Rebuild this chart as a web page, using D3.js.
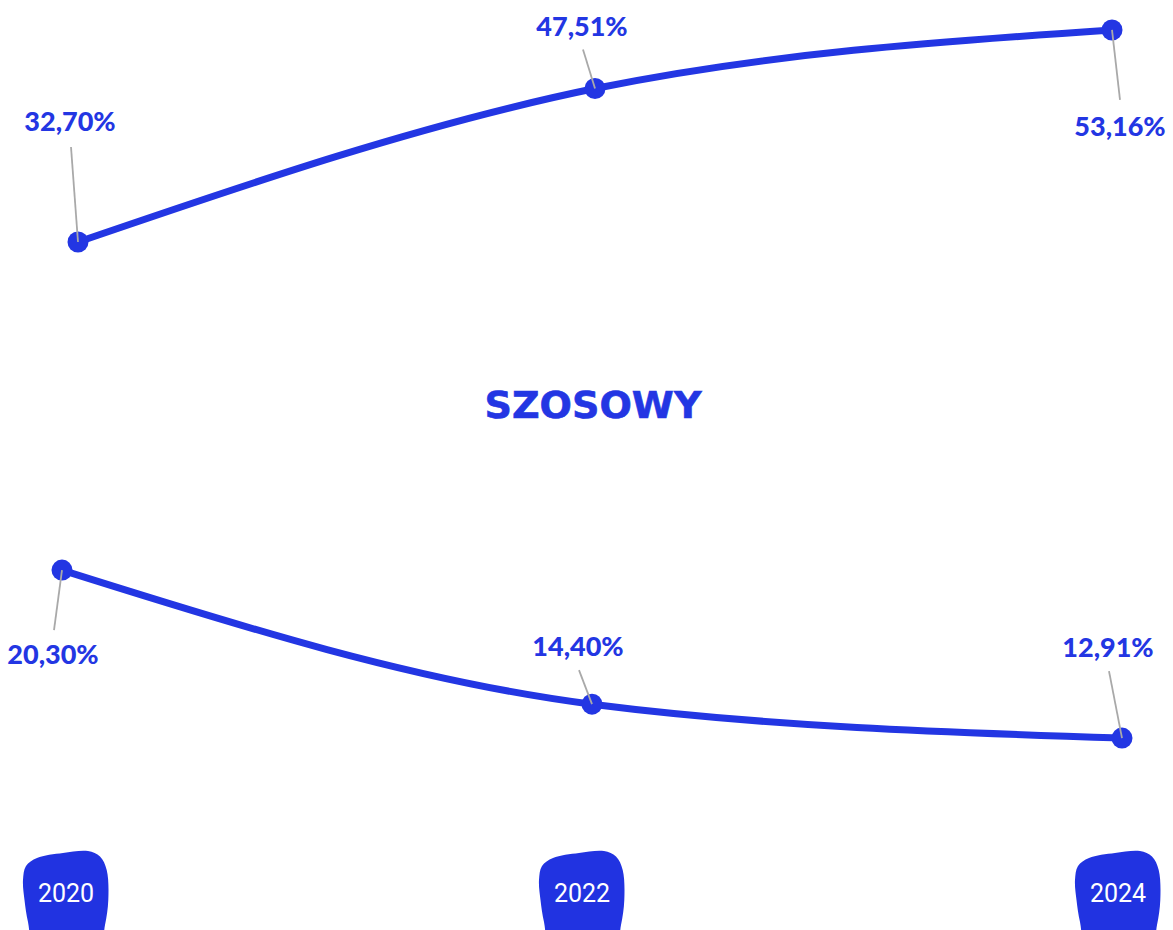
<!DOCTYPE html>
<html>
<head>
<meta charset="utf-8">
<script src="https://cdn.jsdelivr.net/npm/d3@7"></script>
<style>
  html, body { margin: 0; padding: 0; background: #ffffff; overflow: hidden; }
  svg { display: block; }
</style>
</head>
<body>
<svg id="chart" width="1173" height="930"></svg>
<script>
// ---- data ----
const years = [2020, 2022, 2024];
const yearLabels = ["2020", "2022", "2024"];
const topValues = [32.70, 47.51, 53.16];
const bottomValues = [20.30, 14.40, 12.91];
const title = "SZOSOWY";

// ---- layout / style (not data) ----
const BLUE = "#2336E3";
const BADGE = "#2133E1";
const topLabelLayout = [
  { dx: -8, dy: -111, lx: -7, ly: -95 },
  { dx: -13, dy: -53, lx: -12, ly: -39 },
  { dx: 8, dy: 106, lx: 8, ly: 70 }
];
const bottomLabelLayout = [
  { dx: -9, dy: 94, lx: -8, ly: 60 },
  { dx: -14, dy: -48, lx: -13, ly: -34 },
  { dx: -14, dy: -81, lx: -13, ly: -67 }
];

const svg = d3.select("#chart");
const locale = d3.formatLocale({ decimal: ",", thousands: " ", grouping: [3], currency: ["", " zł"] });
const fmt = v => locale.format(".2f")(v) + "%";

// scales
const xTop = d3.scalePoint().domain(years).range([78, 1112]);
const yTop = d3.scaleLinear().domain([0, 56]).range([580.8, 580.8 - 56 * 10.362]);
const xBot = d3.scalePoint().domain(years).range([62, 1122]);
const yBot = d3.scaleLinear().domain([12, 21]).range([1031.5 - 12 * 22.73, 1031.5 - 21 * 22.73]);

function drawSeries(values, xs, ys, layout) {
  const data = years.map((y, i) => ({ year: y, value: values[i], lay: layout[i] }));
  const g = svg.append("g");
  const line = d3.line().x(d => xs(d.year)).y(d => ys(d.value)).curve(d3.curveMonotoneX);
  g.append("path").datum(data)
    .attr("d", line)
    .attr("fill", "none")
    .attr("stroke", BLUE)
    .attr("stroke-width", 7)
    .attr("stroke-linecap", "round");
  g.selectAll("circle").data(data).join("circle")
    .attr("cx", d => xs(d.year)).attr("cy", d => ys(d.value))
    .attr("r", 10.5).attr("fill", BLUE);
  g.selectAll("line.leader").data(data).join("line")
    .attr("class", "leader")
    .attr("x1", d => xs(d.year)).attr("y1", d => ys(d.value))
    .attr("x2", d => xs(d.year) + d.lay.lx).attr("y2", d => ys(d.value) + d.lay.ly)
    .attr("stroke", "#a9a9a9").attr("stroke-width", 1.8);
  g.selectAll("text.lbl").data(data).join("text")
    .attr("class", "lbl")
    .attr("x", d => xs(d.year) + d.lay.dx).attr("y", d => ys(d.value) + d.lay.dy)
    .attr("text-anchor", "middle")
    .attr("font-family", "Lato, 'Open Sans', sans-serif")
    .attr("font-weight", 900)
    .attr("font-size", 27)
    .attr("fill", BLUE)
    .text(d => fmt(d.value));
}

drawSeries(topValues, xTop, yTop, topLabelLayout);
drawSeries(bottomValues, xBot, yBot, bottomLabelLayout);

// title
svg.append("text")
  .attr("x", 593).attr("y", 418)
  .attr("text-anchor", "middle")
  .attr("font-family", "'DejaVu Sans', sans-serif")
  .attr("font-weight", 700)
  .attr("font-size", 37)
  .attr("textLength", 217)
  .attr("lengthAdjust", "spacingAndGlyphs")
  .attr("fill", BLUE)
  .attr("stroke", BLUE)
  .attr("stroke-width", 0.6)
  .text(title);

// year badges (blob shapes)
const xBadge = d3.scaleOrdinal().domain(years).range([66, 582, 1118]);
const blobPts = [[3, 16], [14, 8], [40, 3], [65, 1], [77, 6.5], [83.7, 20], [85.3, 50], [82, 75], [76, 95],
                 [12, 95], [5, 72], [1.5, 50], [0, 30]];
const blob = d3.line().curve(d3.curveCatmullRomClosed.alpha(0.5));
const badges = svg.append("g").selectAll("g").data(years).join("g")
  .attr("transform", d => `translate(${xBadge(d) - 43},850)`);
badges.append("path")
  .attr("d", blob(blobPts))
  .attr("fill", BADGE);
badges.append("text")
  .data(yearLabels)
  .attr("x", 43).attr("y", 52)
  .attr("text-anchor", "middle")
  .attr("font-family", "Roboto, sans-serif")
  .attr("font-size", 25)
  .attr("fill", "#ffffff")
  .text(d => d);
</script>
</body>
</html>
